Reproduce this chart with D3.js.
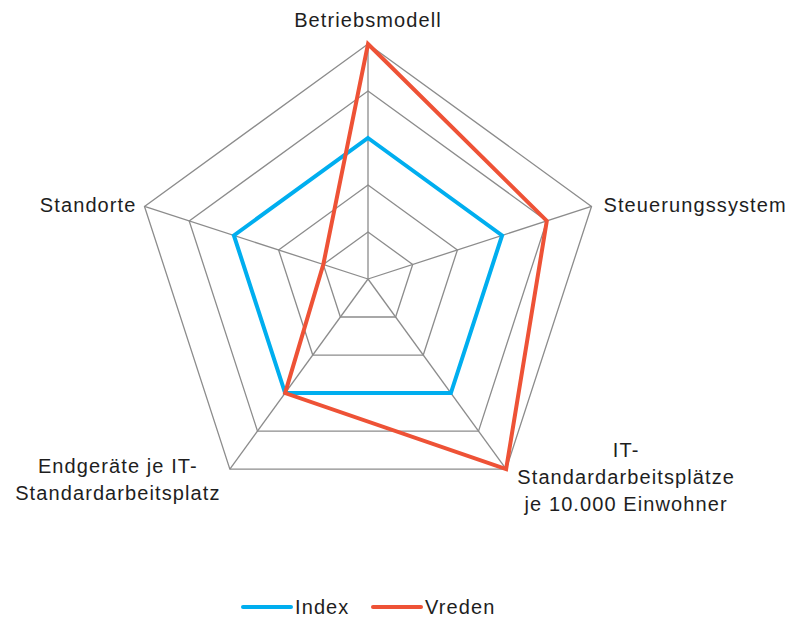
<!DOCTYPE html>
<html>
<head>
<meta charset="utf-8">
<script src="https://cdn.jsdelivr.net/npm/d3@7"></script>
<style>
  body { margin: 0; background: #fff; }
  text { font-family: "Liberation Sans", Arial, sans-serif; font-size: 20px; letter-spacing: 1.1px; fill: #1e1e1e; }
</style>
</head>
<body>
<script>
const categories = [
  ["Betriebsmodell"],
  ["Steuerungssystem"],
  ["IT-", "Standardarbeitsplätze", "je 10.000 Einwohner"],
  ["Endgeräte je IT-", "Standardarbeitsplatz"],
  ["Standorte"]
];
const indexValues = [3, 3, 3, 3, 3];
const vredenValues = [5, 4, 5, 3, 1];
const ticks = [1, 2, 3, 4, 5];
const seriesNames = ["Index", "Vreden"];

const width = 795, height = 619;
const cx = 368, cy = 279;
const colors = ["#00aeef", "#ee5236"];

const svg = d3.select("body").append("svg")
    .attr("width", width)
    .attr("height", height);

const r = d3.scaleLinear().domain([0, 5]).range([0, 235]);
const angle = d3.scaleLinear().domain([0, categories.length]).range([0, 2 * Math.PI]);

const pt = (i, v) => [cx + r(v) * Math.sin(angle(i)), cy - r(v) * Math.cos(angle(i))];

const line = d3.line().curve(d3.curveLinearClosed);

// grid rings
svg.selectAll(".ring")
    .data(ticks)
    .join("path")
    .attr("class", "ring")
    .attr("d", t => line(categories.map((c, i) => pt(i, t))))
    .attr("fill", "none")
    .attr("stroke", "#8c8c8c")
    .attr("stroke-width", 1.3);

// spokes
svg.selectAll(".spoke")
    .data(categories)
    .join("line")
    .attr("class", "spoke")
    .attr("x1", cx).attr("y1", cy)
    .attr("x2", (d, i) => pt(i, 5)[0])
    .attr("y2", (d, i) => pt(i, 5)[1])
    .attr("stroke", "#8c8c8c")
    .attr("stroke-width", 1.3);

// series
[indexValues, vredenValues].forEach((vals, s) => {
  svg.append("path")
      .attr("d", line(vals.map((v, i) => pt(i, v))))
      .attr("fill", "none")
      .attr("stroke", colors[s])
      .attr("stroke-width", 4)
      .attr("stroke-linejoin", "miter");
});

// labels: offset from outer vertex
const labelOffset = [
  { dx: 0, dy: -17, anchor: "middle" },
  { dx: 12, dy: 6, anchor: "start" },
  { dx: 120, dy: -12, anchor: "middle" },
  { dx: -112, dy: 4, anchor: "middle" },
  { dx: -8, dy: 6, anchor: "end" }
];

categories.forEach((lines, i) => {
  const [vx, vy] = pt(i, 5);
  const o = labelOffset[i];
  const t = svg.append("text")
      .attr("text-anchor", o.anchor)
      .attr("x", vx + o.dx)
      .attr("y", vy + o.dy);
  lines.forEach((l, k) => {
    t.append("tspan")
        .attr("x", vx + o.dx)
        .attr("dy", k === 0 ? 0 : 27)
        .text(l);
  });
});

// legend
const legendX = [243, 373];
seriesNames.forEach((name, s) => {
  const g = svg.append("g").attr("transform", `translate(${legendX[s]},607)`);
  g.append("line")
      .attr("x1", 0).attr("x2", 48)
      .attr("stroke", colors[s])
      .attr("stroke-width", 4)
      .attr("stroke-linecap", "round");
  g.append("text")
      .attr("x", 52)
      .attr("y", 7)
      .text(name);
});
</script>
</body>
</html>
